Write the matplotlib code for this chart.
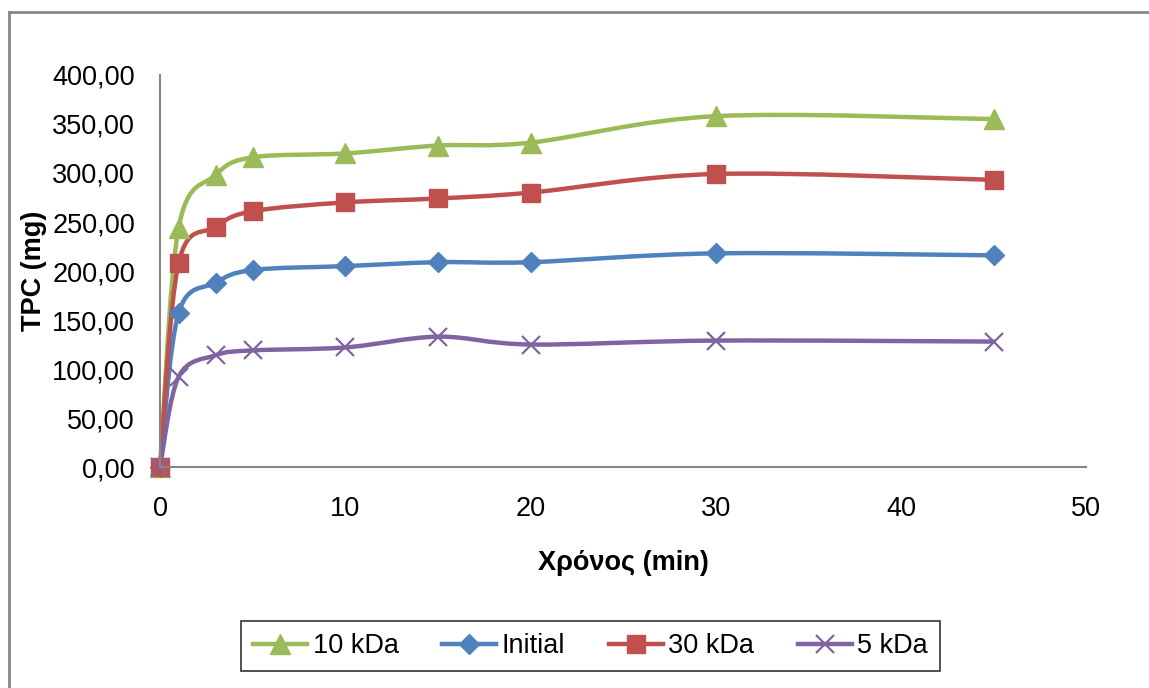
import matplotlib
matplotlib.use("Agg")
import matplotlib.pyplot as plt
from matplotlib.path import Path
from matplotlib.patches import PathPatch
from matplotlib.lines import Line2D
from matplotlib.ticker import FuncFormatter
import numpy as np

plt.rcParams['font.family'] = ['Liberation Sans', 'DejaVu Sans']

# Data (time in min, TPC in mg)
time_min = [0, 1, 3, 5, 10, 15, 20, 30, 45]
tpc_10kda = [0, 244, 298, 316, 320, 328, 331, 358, 355]
tpc_initial = [0, 157, 188, 201, 205, 209, 209, 218, 216]
tpc_30kda = [0, 208, 245, 261, 270, 274, 280, 299, 293]
tpc_5kda = [0, 92, 114, 119, 122, 133, 125, 129, 128]

series = [
    ("10 kDa", tpc_10kda, "#9BBB59", "^"),
    ("Initial", tpc_initial, "#4F81BD", "D"),
    ("30 kDa", tpc_30kda, "#C0504D", "s"),
    ("5 kDa", tpc_5kda, "#8064A2", "x"),
]
marker_sizes = {"^": 14, "D": 10.5, "s": 13, "x": 13}
FS = 19.5


def smooth_path(xs, ys):
    """Excel-like smoothed line: Catmull-Rom segments as cubic Beziers."""
    pts = np.column_stack([xs, ys]).astype(float)
    n = len(pts)
    verts = [pts[0]]
    codes = [Path.MOVETO]
    for i in range(n - 1):
        p0 = pts[i - 1] if i > 0 else pts[i]
        p1 = pts[i]
        p2 = pts[i + 1]
        p3 = pts[i + 2] if i + 2 < n else pts[i + 1]
        c1 = p1 + (p2 - p0) / 6.0
        c2 = p2 - (p3 - p1) / 6.0
        verts += [c1, c2, p2]
        codes += [Path.CURVE4] * 3
    return Path(verts, codes)


fig = plt.figure(figsize=(11.49, 6.88), dpi=100)
ax = fig.add_axes([0.1393, 0.3212, 0.8061, 0.5698])

handles = []
for name, vals, color, marker in series:
    ms = marker_sizes[marker]
    mew = 1.6 if marker == "x" else 1.0
    ax.add_patch(PathPatch(smooth_path(time_min, vals), fill=False,
                           edgecolor=color, linewidth=3.2, capstyle='round',
                           clip_on=False))
    ax.plot(time_min, vals, linestyle='none', marker=marker, markersize=ms,
            markerfacecolor=color, markeredgecolor=color, markeredgewidth=mew,
            clip_on=False)
    handles.append(Line2D([], [], color=color, linewidth=3.2, marker=marker,
                          markersize=ms, markerfacecolor=color,
                          markeredgecolor=color, markeredgewidth=mew,
                          label=name))

ax.set_xlim(0, 50)
ax.set_ylim(0, 400)
ax.set_xticks(range(0, 51, 10))
ax.set_yticks(range(0, 401, 50))
ax.yaxis.set_major_formatter(FuncFormatter(lambda v, p: f"{v:.2f}".replace('.', ',')))
ax.tick_params(length=0, labelsize=FS, colors='black')
ax.tick_params(axis='y', pad=18)
ax.tick_params(axis='x', pad=21)
for side in ('top', 'right'):
    ax.spines[side].set_visible(False)
for side in ('left', 'bottom'):
    ax.spines[side].set_color('#868686')
    ax.spines[side].set_linewidth(1.5)

ax.set_xlabel('Χρόνος (min)', fontsize=FS, fontweight='bold', labelpad=20)
ax.set_ylabel('TPC (mg)', fontsize=FS, fontweight='bold', labelpad=4)

leg = fig.legend(handles=handles, loc='center', bbox_to_anchor=(0.514, 0.061),
                 ncol=4, fontsize=FS, frameon=True, fancybox=False,
                 handlelength=2.0, handletextpad=0.2, columnspacing=1.6,
                 borderpad=0.45, borderaxespad=0)
leg.get_frame().set_edgecolor('black')
leg.get_frame().set_linewidth(1.2)

# Chart area border (left and top visible)
fig.add_artist(Line2D([0.0078, 0.0078], [0.0, 0.983], color='#868686', linewidth=2.0))
fig.add_artist(Line2D([0.0078, 1.0], [0.983, 0.983], color='#868686', linewidth=2.0))

fig.savefig('out.png', dpi=100)
